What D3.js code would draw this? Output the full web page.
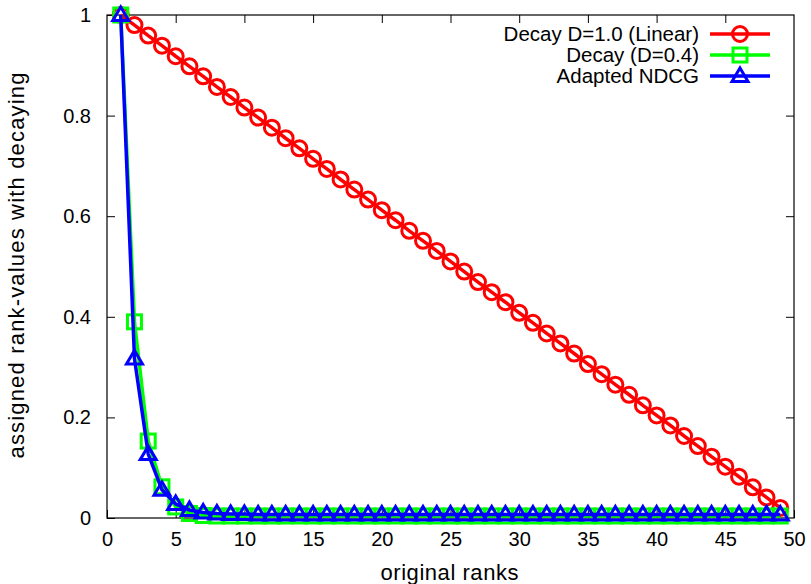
<!DOCTYPE html>
<html>
<head>
<meta charset="utf-8">
<script src="https://cdn.jsdelivr.net/npm/d3@7"></script>
<style>
  body { margin: 0; background: #fff; }
  text { font-family: "Liberation Sans", Arial, sans-serif; fill: #000; }
</style>
</head>
<body>
<div id="chart"></div>
<script>
// ranks 1..49
var ranks = [1,2,3,4,5,6,7,8,9,10,11,12,13,14,15,16,17,18,19,20,21,22,23,24,25,
    26,27,28,29,30,31,32,33,34,35,36,37,38,39,40,41,42,43,44,45,46,47,48,49];

var linearValues = [1.000,0.980,0.959,0.939,0.918,0.898,0.878,0.857,0.837,0.816,
    0.796,0.776,0.755,0.735,0.714,0.694,0.673,0.653,0.633,0.612,
    0.592,0.571,0.551,0.531,0.510,0.490,0.469,0.449,0.429,0.408,
    0.388,0.367,0.347,0.327,0.306,0.286,0.265,0.245,0.224,0.204,
    0.184,0.163,0.143,0.122,0.102,0.082,0.061,0.041,0.020];

var decayValues = [1.000,0.390,0.153,0.062,0.022,0.009,0.005,0.004,0.004,0.004,
    0.004,0.004,0.004,0.004,0.004,0.004,0.004,0.004,0.004,0.004,
    0.004,0.004,0.004,0.004,0.004,0.004,0.004,0.004,0.004,0.004,
    0.004,0.004,0.004,0.004,0.004,0.004,0.004,0.004,0.004,0.004,
    0.004,0.004,0.004,0.004,0.004,0.004,0.004,0.004,0.004];

var ndcgValues = [1.000,0.317,0.127,0.056,0.028,0.016,0.011,0.009,0.008,0.008,
    0.007,0.007,0.007,0.007,0.007,0.007,0.007,0.007,0.007,0.007,
    0.007,0.007,0.007,0.007,0.007,0.007,0.007,0.007,0.007,0.007,
    0.007,0.007,0.007,0.007,0.007,0.007,0.007,0.007,0.007,0.007,
    0.007,0.007,0.007,0.007,0.007,0.007,0.007,0.007,0.007];

var seriesNames = ["Decay D=1.0 (Linear)", "Decay (D=0.4)", "Adapted NDCG"];
var seriesColors = ["#ff0000", "#00ff00", "#0000ff"];
var seriesMarks = ["circle", "square", "triangle"];

var xTicks = [0,5,10,15,20,25,30,35,40,45,50];
var yTicks = [0,0.2,0.4,0.6,0.8,1];

var margin = {top: 15, right: 17, bottom: 66, left: 107},
    width = 811 - margin.left - margin.right,
    height = 584 - margin.top - margin.bottom;

var svg = d3.select("#chart").append("svg")
    .attr("width", 811)
    .attr("height", 584)
    .append("g")
    .attr("transform", "translate(" + margin.left + "," + margin.top + ")");

var x = d3.scaleLinear().domain([0, 50]).range([0, width]);
var y = d3.scaleLinear().domain([0, 1]).range([height, 0]);

// ticks pointing inwards, mirrored on top and right
var tickLen = 8;
svg.append("g").attr("transform", "translate(0," + height + ")")
    .call(d3.axisBottom(x).tickValues(xTicks).tickSizeInner(-tickLen).tickSizeOuter(0).tickPadding(14))
    .call(function(g) { g.select(".domain").remove(); });
svg.append("g")
    .call(d3.axisTop(x).tickValues(xTicks.slice(1, -1)).tickSizeInner(-tickLen).tickSizeOuter(0).tickFormat(""))
    .call(function(g) { g.select(".domain").remove(); });
svg.append("g")
    .call(d3.axisLeft(y).tickValues(yTicks).tickSizeInner(-tickLen).tickSizeOuter(0).tickPadding(16)
        .tickFormat(function(d) { return d3.format("")(+d.toFixed(1)); }))
    .call(function(g) { g.select(".domain").remove(); });
svg.append("g").attr("transform", "translate(" + width + ",0)")
    .call(d3.axisRight(y).tickValues(yTicks.slice(1, -1)).tickSizeInner(-tickLen).tickSizeOuter(0).tickFormat(""))
    .call(function(g) { g.select(".domain").remove(); });

svg.selectAll(".tick line").attr("stroke", "#000").attr("stroke-width", 1);
svg.selectAll(".tick text").style("font-size", "20px").style("font-family", "Liberation Sans, Arial, sans-serif");

// frame
svg.append("rect")
    .attr("width", width).attr("height", height)
    .attr("fill", "none").attr("stroke", "#000").attr("stroke-width", 1.2);

// axis labels
svg.append("text")
    .attr("x", width / 2 - 1).attr("y", height + 62)
    .attr("text-anchor", "middle")
    .attr("textLength", 138)
    .style("font-size", "22px")
    .text("original ranks");

svg.append("text")
    .attr("transform", "translate(" + (-83) + "," + (height / 2 - 1) + ") rotate(-90)")
    .attr("text-anchor", "middle")
    .attr("textLength", 386)
    .style("font-size", "22px")
    .text("assigned rank-values with decaying");

function drawMark(sel, kind, color) {
    if (kind === "circle") {
        sel.append("circle").attr("r", 7.5)
            .attr("fill", "none").attr("stroke", color).attr("stroke-width", 3);
    } else if (kind === "square") {
        sel.append("rect").attr("x", -7).attr("y", -7).attr("width", 14).attr("height", 14)
            .attr("fill", "none").attr("stroke", color).attr("stroke-width", 3);
    } else {
        sel.append("path").attr("d", "M0,-8L8,5.5L-8,5.5Z")
            .attr("fill", "none").attr("stroke", color).attr("stroke-width", 3)
            .attr("stroke-linejoin", "miter");
    }
}

var allValues = [linearValues, decayValues, ndcgValues];
var line = d3.line()
    .x(function(d, i) { return x(ranks[i]); })
    .y(function(d) { return y(d); });

allValues.forEach(function(vals, s) {
    var g = svg.append("g");
    g.append("path")
        .datum(vals)
        .attr("d", line)
        .attr("fill", "none")
        .attr("stroke", seriesColors[s])
        .attr("stroke-width", 3.5);
    g.selectAll(".mark")
        .data(vals)
        .enter().append("g")
        .attr("class", "mark")
        .attr("transform", function(d, i) { return "translate(" + x(ranks[i]) + "," + y(d) + ")"; })
        .each(function() { drawMark(d3.select(this), seriesMarks[s], seriesColors[s]); });
});

// legend
var legend = svg.append("g").attr("transform", "translate(" + (width - 14) + ",19)");
seriesNames.forEach(function(name, i) {
    var row = legend.append("g").attr("transform", "translate(0," + (i * 21) + ")");
    row.append("text")
        .attr("x", -81).attr("y", 0).attr("dy", "0.35em")
        .attr("text-anchor", "end")
        .style("font-size", "20.5px")
        .text(name);
    row.append("line")
        .attr("x1", -70).attr("x2", -10)
        .attr("stroke", seriesColors[i]).attr("stroke-width", 3.5);
    var m = row.append("g").attr("transform", "translate(-40,0)");
    drawMark(m, seriesMarks[i], seriesColors[i]);
});
</script>
</body>
</html>
